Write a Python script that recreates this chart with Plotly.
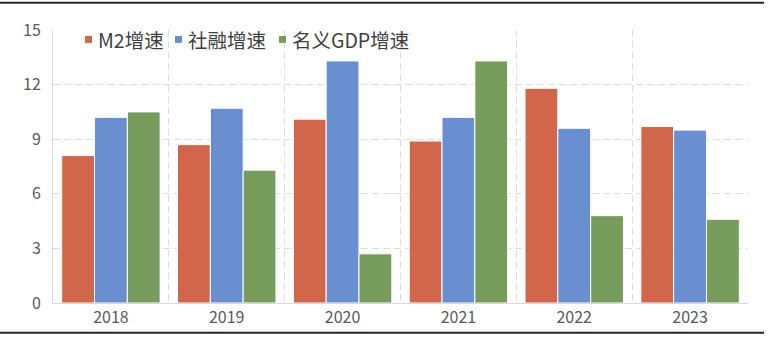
import plotly.graph_objects as go

years = ["2018", "2019", "2020", "2021", "2022", "2023"]
m2 = [8.1, 8.7, 10.1, 8.9, 11.8, 9.7]
tsf = [10.2, 10.7, 13.3, 10.2, 9.6, 9.5]
gdp = [10.5, 7.3, 2.7, 13.3, 4.8, 4.6]
names = ["M2增速", "社融增速", "名义GDP增速"]
colors = ["#D1664B", "#698FD1", "#789C5B"]
yticks = [0, 3, 6, 9, 12, 15]

# plot area geometry in pixels (for placing the legend items)
L, R, T, B = 53, 21, 30, 35
W, H = 769 - L - R, 340 - T - B


def px_x(p):
    return (p - L) / W


def px_y(p):
    return (340 - B - p) / H


x = list(range(len(years)))
fig = go.Figure()
for vals, nm, c in zip([m2, tsf, gdp], names, colors):
    fig.add_trace(go.Bar(x=x, y=vals, name=nm, showlegend=False,
                         marker=dict(color=c, line=dict(color="white", width=1))))

font = "Noto Sans CJK SC, Noto Sans, sans-serif"
fig.update_layout(
    width=769, height=340,
    margin=dict(l=L, r=R, t=T, b=B),
    paper_bgcolor="white", plot_bgcolor="white",
    barmode="group", bargap=0.15, bargroupgap=0,
    font=dict(family=font, color="#595959", size=16),
    xaxis=dict(range=[-0.5, 5.5], tickvals=x, ticktext=years, showgrid=False,
               showline=True, linecolor="#D9D9D9", linewidth=1, ticks="",
               minor=dict(tickvals=[i - 0.5 for i in range(len(years) + 1)], showgrid=True,
                          gridcolor="#DCDCDC", griddash="7px,4px", gridwidth=1.2, ticks=""),
               zeroline=False, fixedrange=True),
    yaxis=dict(range=[0, 15], tickvals=yticks, showgrid=True, gridcolor="#DCDCDC",
               griddash="7px,4px", gridwidth=1.2, showline=True, linecolor="#D9D9D9",
               zeroline=False, ticks="", ticklabelstandoff=8),
)

# legend drawn as squares + text
sq_left = [85, 175, 279]
txt_left = [96, 186, 290]
for nm, c, sx, tx in zip(names, colors, sq_left, txt_left):
    fig.add_shape(type="rect", xref="paper", yref="paper",
                  x0=px_x(sx), x1=px_x(sx + 7), y0=px_y(36), y1=px_y(43),
                  fillcolor=c, line=dict(width=0), layer="above")
    fig.add_annotation(xref="paper", yref="paper", x=px_x(tx), y=px_y(39.5),
                       xanchor="left", yanchor="middle", text=nm, showarrow=False,
                       font=dict(size=19.5, color="#404040", family=font))

# top and bottom border lines
for yy in [px_y(2.5), px_y(335)]:
    fig.add_shape(type="line", xref="paper", yref="paper", x0=px_x(0), x1=px_x(764), y0=yy, y1=yy,
                  line=dict(color="#262626", width=2), layer="above")
fig.write_html("out.html")
